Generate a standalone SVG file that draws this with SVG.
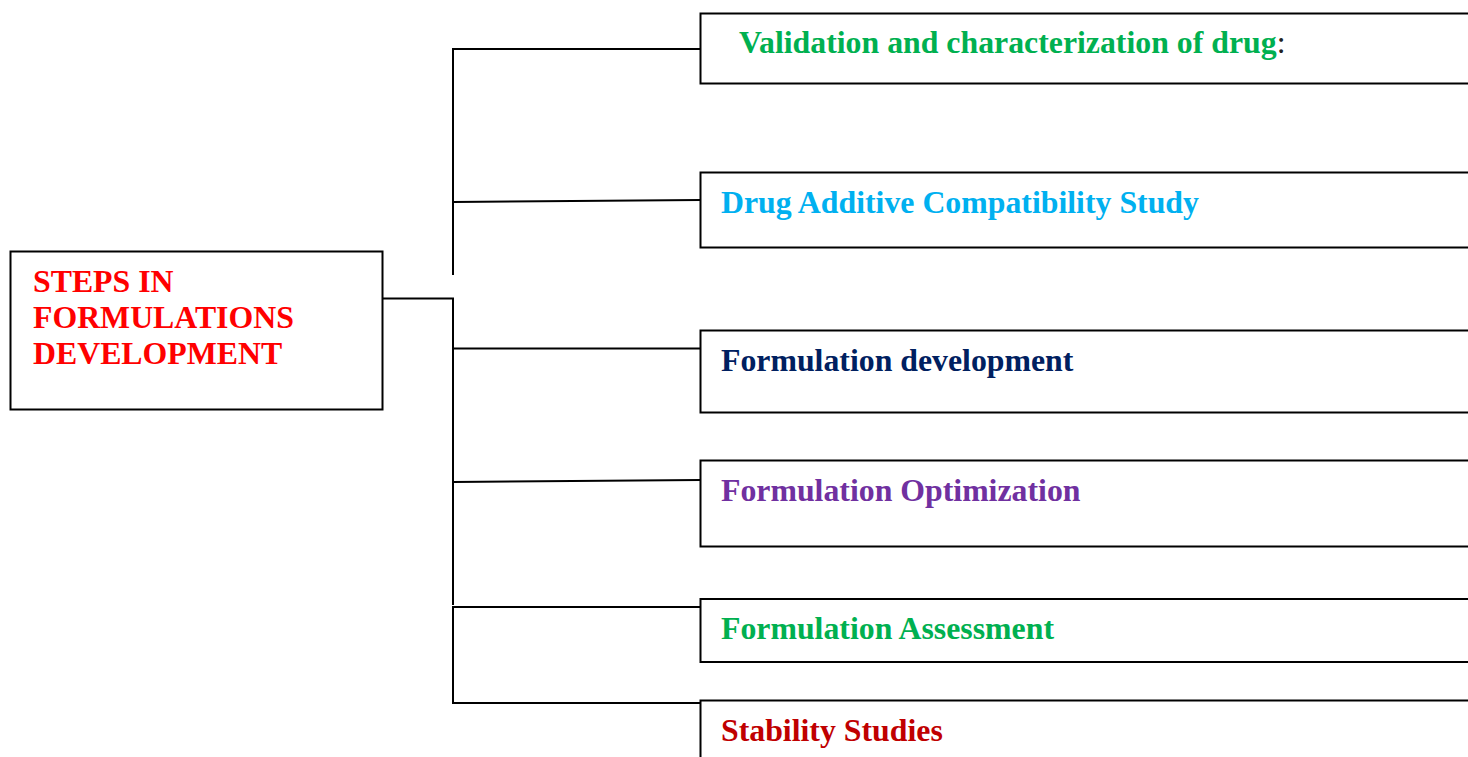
<svg xmlns="http://www.w3.org/2000/svg" width="1468" height="757" viewBox="0 0 1468 757">
<style>
.box{fill:#fff;stroke:#000;stroke-width:2}
.lbl{font-family:"Liberation Serif","Times New Roman",serif;font-weight:bold;font-size:31.8px}
.con{fill:none;stroke:#000;stroke-width:2}
</style>
<rect x="0" y="0" width="1468" height="757" fill="#fff"/>
<g id="connectors">
<path class="con" d="M453,49 V275"/>
<path class="con" d="M452,49 H700"/>
<path class="con" d="M453,202 L700,200"/>
<path class="con" d="M383,298.5 H453 V605"/>
<path class="con" d="M453,348.5 H700" stroke-width="2.6"/>
<path class="con" d="M453,482 L700,480"/>
<path class="con" d="M453,607 H700"/>
<path class="con" d="M453,606 V703 H700"/>
</g>
<g id="main">
<rect class="box" x="10.5" y="251.5" width="372" height="158"/>
<text class="lbl" fill="#FF0000"><tspan x="33" y="291.5">STEPS IN</tspan><tspan x="33" y="328">FORMULATIONS</tspan><tspan x="33" y="364">DEVELOPMENT</tspan></text>
</g>
<g id="n1">
<rect class="box" x="700.5" y="13.5" width="780" height="70"/>
<text class="lbl" x="739" y="53" fill="#00B050">Validation and characterization of drug<tspan fill="#222" font-weight="normal">:</tspan></text>
</g>
<g id="n2">
<rect class="box" x="700.5" y="172.5" width="780" height="75"/>
<text class="lbl" x="721" y="213" fill="#00B0F0">Drug Additive Compatibility Study</text>
</g>
<g id="n3">
<rect class="box" x="700.5" y="330.5" width="780" height="82"/>
<text class="lbl" x="721" y="370.5" fill="#002060">Formulation development</text>
</g>
<g id="n4">
<rect class="box" x="700.5" y="460.5" width="780" height="86"/>
<text class="lbl" x="721" y="500.5" fill="#7030A0">Formulation Optimization</text>
</g>
<g id="n5">
<rect class="box" x="700.5" y="599" width="780" height="63"/>
<text class="lbl" x="721" y="639" fill="#00B050">Formulation Assessment</text>
</g>
<g id="n6">
<rect class="box" x="700.5" y="700.5" width="780" height="80"/>
<text class="lbl" x="721" y="741" fill="#C00000">Stability Studies</text>
</g>
</svg>
